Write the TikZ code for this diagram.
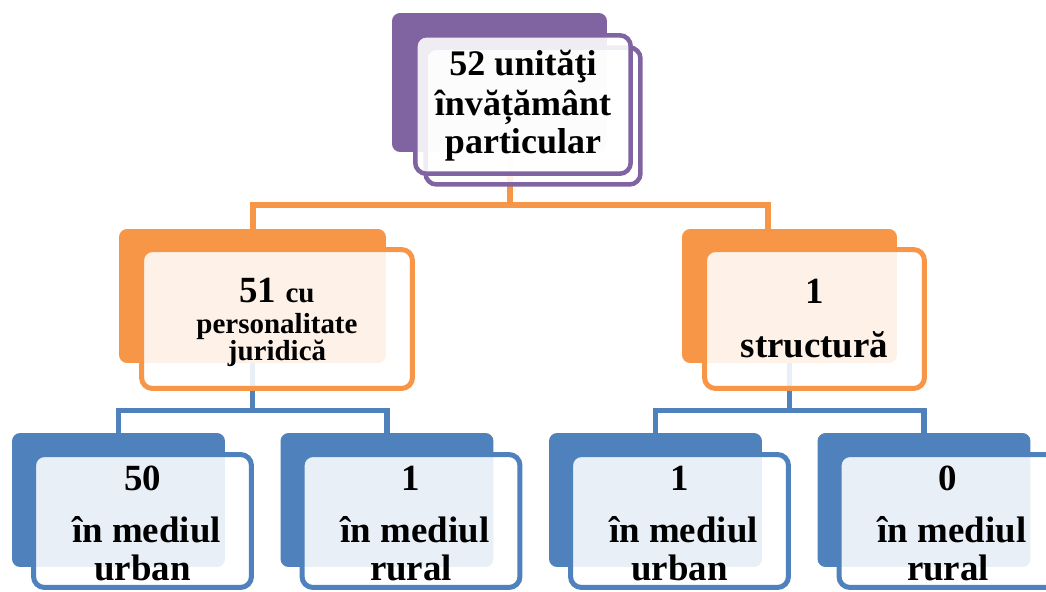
\documentclass[tikz,border=0pt]{standalone}
\usepackage{fontspec}
\setmainfont{Liberation Serif}
\usetikzlibrary{backgrounds}
\definecolor{hpurple}{HTML}{8064A2}
\definecolor{horange}{HTML}{F79646}
\definecolor{hblue}{HTML}{4F81BD}
\tikzset{
    backbox/.style={rectangle, rounded corners=0.16cm, inner sep=0pt, fill=#1},
    frontbox/.style={rectangle, rounded corners=0.22cm, inner sep=0pt, draw=#1,
        line width=0.1cm, fill=white, fill opacity=0.88},
    link/.style={draw=#1, line width=0.12cm},
    lbl/.style={anchor=base, inner sep=0pt, font=\bfseries\fontsize{21}{21}\selectfont},
    smalllbl/.style={lbl, font=\bfseries\fontsize{16.5}{16.5}\selectfont}
}

\begin{document}
\begin{tikzpicture}[x=0.02cm, y=-0.02cm]
    \useasboundingbox (0,0) rectangle (1046,592);
    \clip (0,0) rectangle (1046,592);
    % Top box
    \node[backbox=hpurple, minimum width=4.3cm, minimum height=2.78cm] (topb) at (499.5,82.5) {};
    \node[frontbox=hpurple, line width=0.09cm, minimum width=4.3cm, minimum height=2.74cm] (topf2) at (533,116) {};
    \node[frontbox=hpurple, line width=0.09cm, minimum width=4.31cm, minimum height=2.77cm] (topf) at (523,104.5) {};
    \node[lbl, font=\bfseries\fontsize{20.5}{20.5}\selectfont] (t1) at (523,75) {52 unităţi};
    \node[lbl, font=\bfseries\fontsize{20.5}{20.5}\selectfont] (t2) at (523,115) {învățământ};
    \node[lbl, font=\bfseries\fontsize{20.5}{20.5}\selectfont] (t3) at (523,153) {particular};
    % Second level
    \node[backbox=horange, minimum width=5.34cm, minimum height=2.68cm] (pjb) at (252.5,296) {};
    \node[frontbox=horange, minimum width=5.42cm, minimum height=2.78cm] (pjf) at (277,319) {};
    \node[lbl] (pj1) at (277,302) {51 {\fontsize{16.5}{16.5}\selectfont cu}};
    \node[smalllbl] (pj2) at (277,333) {personalitate};
    \node[smalllbl] (pj3) at (277,360) {juridică};
    \node[backbox=horange, minimum width=4.3cm, minimum height=2.68cm] (stb) at (789.5,296) {};
    \node[frontbox=horange, minimum width=4.4cm, minimum height=2.78cm] (stf) at (814.5,319) {};
    \node[lbl] (st1) at (814.5,303) {1};
    \node[lbl] (st2) at (814.5,357) {structură};
    % Third level
    \foreach \i/\n/\m in {0/50/urban, 1/1/rural, 2/1/urban, 3/0/rural} {
        \node[backbox=hblue, minimum width=4.26cm, minimum height=2.68cm] (b\i) at ({118.5+268.5*\i},500) {};
        \node[frontbox=hblue, minimum width=4.36cm, minimum height=2.66cm] (f\i) at ({142.5+268.5*\i},521) {};
        \node[lbl] (n\i) at ({142.5+268.5*\i},490) {\n};
        \node[lbl] (w\i) at ({146.5+268.5*\i},542) {în mediul};
        \node[lbl] (m\i) at ({142.5+268.5*\i},580) {\m};
    }
    % Connectors
    \begin{scope}[on background layer]
        \draw[link=horange] ([xshift=0.21cm]topb.south) -- ++(0,53) coordinate (j0);
        \draw[link=horange] (j0) -| (pjb.north);
        \draw[link=horange] (j0) -| ([xshift=-0.43cm]stb.north);
        \draw[link=hblue, line width=0.11cm] (pjb.south) -- ++(0,47) coordinate (j1);
        \draw[link=hblue, line width=0.11cm] (j1) -| (b0.north);
        \draw[link=hblue, line width=0.11cm] (j1) -| (b1.north);
        \draw[link=hblue, line width=0.11cm] (stb.south) -- ++(0,47) coordinate (j2);
        \draw[link=hblue, line width=0.11cm] (j2) -| (b2.north);
        \draw[link=hblue, line width=0.11cm] (j2) -| (b3.north);
    \end{scope}
\end{tikzpicture}
\end{document}
